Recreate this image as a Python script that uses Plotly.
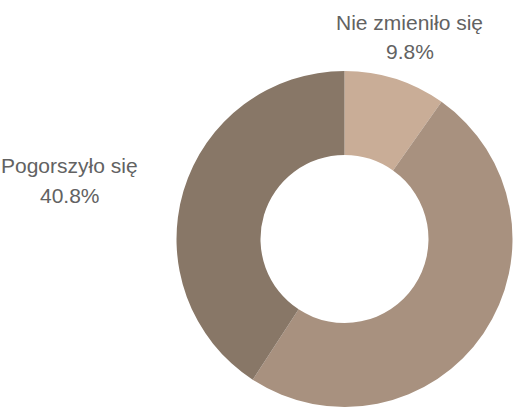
import plotly.graph_objects as go

categories = ["Nie zmieniło się", "Poprawiło się", "Pogorszyło się"]
values = [9.8, 49.4, 40.8]
colors = ["#C9AD97", "#A8917F", "#887767"]
shown_labels = [True, False, True]

fig = go.Figure(
    go.Pie(
        labels=categories,
        values=values,
        hole=0.5,
        sort=False,
        direction="clockwise",
        rotation=0,
        marker=dict(colors=colors, line=dict(width=0)),
        textinfo="none",
        hoverinfo="label+percent",
        showlegend=False,
    )
)

# label positions in paper coordinates (layout only): x centre, y of name line, y of percent line
label_pos = {0: (0.693, 1.144, 1.059), 2: (-0.315, 0.720, 0.628)}
total = sum(values)
font = dict(family="Liberation Sans, Arial, sans-serif", size=21, color="#626262")
for i, (cat, val, show) in enumerate(zip(categories, values, shown_labels)):
    if not show:
        continue
    x, y1, y2 = label_pos[i]
    for txt, yy in ((cat, y1), (f"{val / total * 100:.1f}%", y2)):
        fig.add_annotation(
            x=x, y=yy, xref="paper", yref="paper",
            xanchor="center", yanchor="middle",
            text=txt, showarrow=False, align="center", font=font,
        )

fig.update_layout(
    width=514,
    height=407,
    margin=dict(l=176, r=1, t=71, b=0),
    paper_bgcolor="white",
    plot_bgcolor="white",
)

fig.write_html(
    "out.html",
    config={"displayModeBar": False},
    post_script="document.body.style.margin='0';document.body.style.overflow='hidden';",
)
